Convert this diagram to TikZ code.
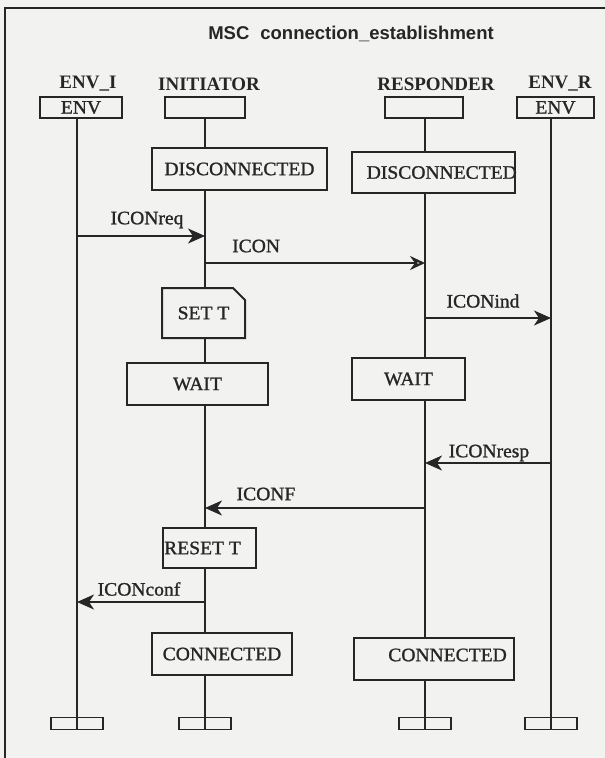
\documentclass[tikz,border=0pt]{standalone}
\usepackage{fontspec}
\setmainfont{Liberation Serif}
\newfontfamily\boxfont[FakeBold=1.2,FakeStretch=1.03]{Liberation Serif}
\newfontfamily\titlefont{Liberation Sans}
\usetikzlibrary{arrows.meta,shapes.misc,backgrounds}
\definecolor{paper}{RGB}{242,242,240}
\definecolor{ink}{RGB}{38,38,38}
\begin{document}
\begin{tikzpicture}[x=1pt,y=-1pt,
  txt/.style={font=\boxfont\fontsize{19}{22}\selectfont, inner sep=0, text=ink},
  ttl/.style={font=\titlefont\bfseries\fontsize{18.5}{22}\selectfont, inner sep=0, text=ink},
  inst/.style={font=\bfseries\fontsize{19}{22}\selectfont, inner sep=0, text=ink},
  head/.style={draw=ink, line width=2pt, fill=paper, minimum height=21pt, inner sep=0,
    font=\boxfont\fontsize{19}{22}\selectfont, text=ink},
  state/.style={draw=ink, line width=2pt, fill=paper, inner sep=0,
    font=\boxfont\fontsize{19}{22}\selectfont, text=ink},
  task/.style={state, chamfered rectangle, chamfered rectangle corners=north east,
    chamfered rectangle xsep=6pt, chamfered rectangle ysep=6pt},
  endbar/.style={draw=ink, line width=1.6pt, fill=paper, minimum width=52pt, minimum height=12pt, inner sep=0},
  life/.style={draw=ink, line width=2.2pt},
  msg/.style={draw=ink, line width=2.2pt, -{Stealth[length=17pt,width=15pt,inset=5pt]}},
  omsg/.style={draw=ink, line width=2.2pt, -{Stealth[open,length=15pt,width=14pt,inset=5pt]}}
]
\begin{pgfonlayer}{background}
\fill[paper] (0,0) rectangle (605,758);
\end{pgfonlayer}
\useasboundingbox (0,0) rectangle (605,758);
% frame
\draw[ink, line width=2pt] (5,758) -- (5,8) -- (605,8);
\node[ttl] (title) at (351,34) {MSC\hspace{11pt}connection\_establishment};
% instance names
\node[inst] (l1) at (88,84) {ENV\_I};
\node[inst] (l2) at (209,84) {INITIATOR};
\node[inst] (l3) at (436,84) {RESPONDER};
\node[inst] (l4) at (560,84) {ENV\_R};
% heads
\node[head, minimum width=82pt] (h1) at (81,107.5) {ENV};
\node[head, minimum width=80pt] (h2) at (205,107.5) {};
\node[head, minimum width=78pt] (h3) at (424,107.5) {};
\node[head, minimum width=77pt] (h4) at (555.5,107.5) {ENV};
% end bars
\node[endbar] (b1) at (77,723.5) {};
\node[endbar] (b2) at (205,723.5) {};
\node[endbar] (b3) at (425,723.5) {};
\node[endbar] (b4) at (551,723.5) {};
% states and tasks
\node[state, minimum width=175pt, minimum height=42pt] (dis1) at (239.5,169) {DISCONNECTED};
\node[state, minimum width=163pt, minimum height=41pt] (dis2) at (433.5,172.5) {};
\node[txt, anchor=east] (dis2t) at ([xshift=1pt]dis2.east) {DISCONNECTED};
\node[task, minimum width=83pt, minimum height=50pt] (sett) at (203.5,313) {SET T};
\node[state, minimum width=141pt, minimum height=42pt] (wait1) at (197.5,384) {WAIT};
\node[state, minimum width=113pt, minimum height=42pt] (wait2) at (408.5,379) {WAIT};
\node[task, minimum width=93pt, minimum height=40pt] (reset) at (209.5,548) {};
\node[txt, anchor=west] (resett) at ([xshift=2pt]reset.west) {RESET T};
\node[state, minimum width=140pt, minimum height=42pt] (con1) at (222,654) {CONNECTED};
\node[state, minimum width=160pt, minimum height=42pt] (con2) at (434,659) {};
\node[txt, anchor=east] (con2t) at ([xshift=-8pt,yshift=4pt]con2.east) {CONNECTED};
% lifelines
\begin{pgfonlayer}{background}
\draw[life] (h1.south -| b1) -- (b1.south);
\draw[life] (h2.south -| b2) -- (b2.south);
\draw[life] (h3.south -| b3) -- (b3.south);
\draw[life] (h4.south -| b4) -- (b4.south);
\end{pgfonlayer}
\draw[life] (b1.north) -- (b1.south);
\draw[life] (b2.north) -- (b2.south);
\draw[life] (b3.north) -- (b3.south);
\draw[life] (b4.north) -- (b4.south);
% messages
\draw[msg] (b1 |- 0,236) -- (b2 |- 0,236);
\node[txt] (m1) at (147,220) {ICONreq};
\draw[omsg] (b2 |- 0,263) -- (b3 |- 0,263);
\node[txt, anchor=west] (m2) at (232,246) {ICON};
\draw[msg] (b3 |- 0,318) -- (b4 |- 0,318);
\node[txt] (m3) at (483,301) {ICONind};
\draw[msg] (b4 |- 0,463) -- (b3 |- 0,463);
\node[txt] (m4) at (489,453) {ICONresp};
\draw[msg] (b3 |- 0,508) -- (b2 |- 0,508);
\node[txt] (m5) at (266,494) {ICONF};
\draw[msg] (b2 |- 0,602) -- (b1 |- 0,602);
\node[txt] (m6) at (139,589) {ICONconf};
\end{tikzpicture}
\end{document}
